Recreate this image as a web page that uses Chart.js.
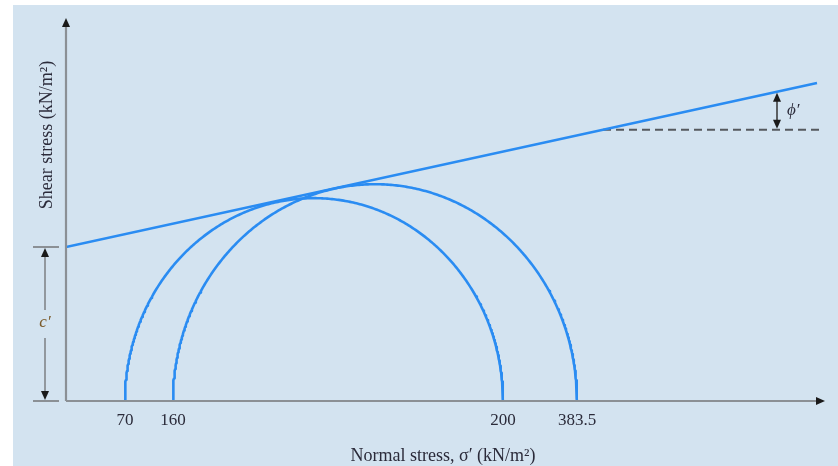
<!DOCTYPE html>
<html>
<head>
<meta charset="utf-8">
<script src="https://cdn.jsdelivr.net/npm/chart.js@4/dist/chart.umd.min.js"></script>
<style>
  html, body { margin: 0; padding: 0; background: #ffffff; }
  #wrap { width: 838px; height: 466px; }
</style>
</head>
<body>
<div id="wrap"><canvas id="mohr" width="838" height="466"></canvas></div>
<script>
// Effective stress tests (kN/m²): confining σ3′ and failure σ1′ of each specimen
const minorStress = [70, 160];
const majorStress = [200, 383.5];

// Normal-stress tick labels and where each sits on the (schematic, not to scale) σ′ axis
const stressLabels = ['70', '160', '200', '383.5'];
const stressAxisAt = [59, 107, 437, 511];

// Failure envelope in axis units: intercept c′ and its far end
const cohesionAt = 143.5;
const envelopeX = [0, 751];
const envelopeY = [143.5, 296.3];

// Horizontal reference from which φ′ is measured
const phiRefX = [537, 754];
const phiArrowX = 711;

const AXIS_X_MAX = 759;
const AXIS_Y_MAX = 355;

const BLUE = '#2a8cf2';
const AXIS_GREY = '#8b9095';
const INK = '#1a1a1a';
const SERIF = '"Liberation Serif", "DejaVu Serif", serif';

function axisPos(stress) {
  return stressAxisAt[stressLabels.indexOf(String(stress))];
}
function envelopeAt(x) {
  const slope = (envelopeY[1] - envelopeY[0]) / (envelopeX[1] - envelopeX[0]);
  return envelopeY[0] + slope * (x - envelopeX[0]);
}

// Mohr circle (upper half) between σ3′ and σ1′
function mohrCircle(s3, s1) {
  const a = axisPos(s3), b = axisPos(s1);
  const c = (a + b) / 2, r = (b - a) / 2;
  const pts = [];
  for (let i = 0; i <= 360; i++) {
    const t = Math.PI * (1 - i / 360);
    pts.push({ x: c + r * Math.cos(t), y: r * Math.sin(t) });
  }
  return pts;
}

const datasets = minorStress.map((s3, i) => ({
  label: 'Test ' + (i + 1),
  data: mohrCircle(s3, majorStress[i]),
  borderColor: BLUE,
  borderWidth: 2.6,
  borderJoinStyle: 'round',
  showLine: true,
  pointRadius: 0,
  fill: false
}));
datasets.push({
  label: 'Failure envelope',
  data: envelopeX.map((x, i) => ({ x, y: envelopeY[i] })),
  borderColor: BLUE,
  borderWidth: 2.6,
  showLine: true,
  pointRadius: 0
});
const phiRefY = envelopeAt(phiRefX[0]);
datasets.push({
  label: 'Reference',
  data: phiRefX.map(x => ({ x, y: phiRefY })),
  borderColor: '#55595e',
  borderWidth: 1.8,
  borderDash: [8, 5],
  showLine: true,
  pointRadius: 0
});

function arrowHead(ctx, x, y, dir, len, half) {
  ctx.beginPath();
  if (dir === 'up') { ctx.moveTo(x, y); ctx.lineTo(x - half, y + len); ctx.lineTo(x + half, y + len); }
  else if (dir === 'down') { ctx.moveTo(x, y); ctx.lineTo(x - half, y - len); ctx.lineTo(x + half, y - len); }
  else { ctx.moveTo(x, y); ctx.lineTo(x - len, y - half); ctx.lineTo(x - len, y + half); }
  ctx.closePath();
  ctx.fill();
}

const backdrop = {
  id: 'backdrop',
  beforeDraw(chart) {
    const ctx = chart.ctx;
    ctx.save();
    ctx.fillStyle = '#d3e3f0';
    ctx.fillRect(13, 5, chart.width - 13, chart.height - 5);
    ctx.restore();
  }
};

const annotations = {
  id: 'annotations',
  afterDatasetsDraw(chart) {
    const ctx = chart.ctx;
    const xs = chart.scales.x, ys = chart.scales.y;
    const x0 = xs.getPixelForValue(0), y0 = ys.getPixelForValue(0);
    const xEnd = xs.getPixelForValue(AXIS_X_MAX);
    const yTop = ys.getPixelForValue(AXIS_Y_MAX) - 2;
    ctx.save();

    // axes
    ctx.strokeStyle = AXIS_GREY;
    ctx.lineWidth = 2.2;
    ctx.beginPath();
    ctx.moveTo(x0, y0); ctx.lineTo(xEnd - 4, y0);
    ctx.moveTo(x0, y0); ctx.lineTo(x0, yTop + 4);
    ctx.stroke();
    ctx.fillStyle = INK;
    arrowHead(ctx, xEnd, y0, 'right', 9, 4);
    arrowHead(ctx, x0, yTop, 'up', 9, 4);

    // tick labels
    ctx.fillStyle = '#2b2b3a';
    ctx.font = '17px ' + SERIF;
    ctx.textAlign = 'center';
    ctx.textBaseline = 'middle';
    stressLabels.forEach((lab, i) => {
      ctx.fillText(lab, xs.getPixelForValue(stressAxisAt[i]), y0 + 20);
    });

    // axis titles
    ctx.font = '18px ' + SERIF;
    ctx.fillText('Normal stress, \u03C3\u2032 (kN/m\u00B2)', 443, 456);
    ctx.save();
    ctx.translate(47, 135);
    ctx.rotate(-Math.PI / 2);
    ctx.fillText('Shear stress (kN/m\u00B2)', 0, 0);
    ctx.restore();

    // c′ dimension
    const yc = ys.getPixelForValue(cohesionAt);
    const xd = 45;
    ctx.strokeStyle = AXIS_GREY;
    ctx.lineWidth = 1.8;
    ctx.beginPath();
    ctx.moveTo(33, yc); ctx.lineTo(59, yc);
    ctx.moveTo(33, y0); ctx.lineTo(59, y0);
    ctx.moveTo(xd, yc + 8); ctx.lineTo(xd, 310);
    ctx.moveTo(xd, 338); ctx.lineTo(xd, y0 - 8);
    ctx.stroke();
    ctx.fillStyle = INK;
    arrowHead(ctx, xd, yc + 1, 'up', 9, 4);
    arrowHead(ctx, xd, y0 - 1, 'down', 9, 4);
    ctx.fillStyle = '#7a5a2a';
    ctx.font = 'italic 17px ' + SERIF;
    ctx.fillText('c\u2032', xd, 323);

    // φ′ arrow between reference line and envelope
    const px = xs.getPixelForValue(phiArrowX);
    const pTop = ys.getPixelForValue(envelopeAt(phiArrowX));
    const pBot = ys.getPixelForValue(phiRefY);
    ctx.strokeStyle = '#333';
    ctx.lineWidth = 1.5;
    ctx.beginPath();
    ctx.moveTo(px, pTop + 6); ctx.lineTo(px, pBot - 6);
    ctx.stroke();
    ctx.fillStyle = INK;
    arrowHead(ctx, px, pTop + 1, 'up', 9, 4);
    arrowHead(ctx, px, pBot - 1, 'down', 9, 4);
    ctx.fillStyle = '#2b2b3a';
    ctx.font = 'italic 17px ' + SERIF;
    ctx.textAlign = 'left';
    ctx.fillText('\u03D5\u2032', px + 10, (pTop + pBot) / 2);

    ctx.restore();
  }
};

new Chart(document.getElementById('mohr'), {
  type: 'scatter',
  data: { datasets },
  options: {
    responsive: false,
    animation: false,
    layout: { padding: { left: 66, right: 13, top: 20, bottom: 65 } },
    plugins: { legend: { display: false }, tooltip: { enabled: false } },
    elements: { line: { tension: 0 } },
    scales: {
      x: { type: 'linear', min: 0, max: AXIS_X_MAX, display: false },
      y: { type: 'linear', min: 0, max: AXIS_Y_MAX, display: false }
    }
  },
  plugins: [backdrop, annotations]
});
</script>
</body>
</html>
